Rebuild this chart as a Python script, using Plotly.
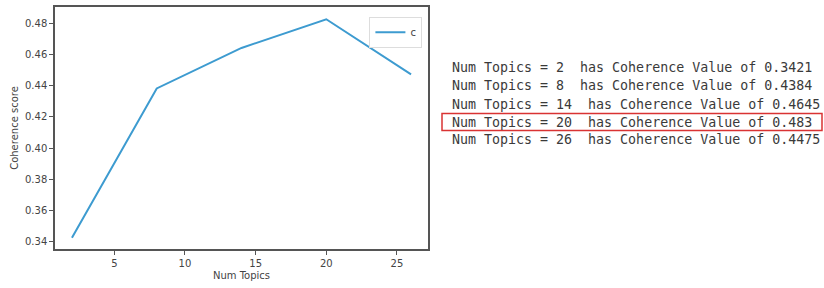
import plotly.graph_objects as go

num_topics = [2, 8, 14, 20, 26]
coherence = [0.3421, 0.4384, 0.4645, 0.483, 0.4475]
x_ticks = [5, 10, 15, 20, 25]
y_ticks = [0.34, 0.36, 0.38, 0.40, 0.42, 0.44, 0.46, 0.48]
highlight_index = 3

W, H = 824, 288
L, R, T, B = 55, 428, 5, 249

def px(x):
    return (x - L) / (R - L)

def py(y):
    return (B - y) / (B - T)

fig = go.Figure()
fig.add_trace(go.Scatter(x=num_topics, y=coherence, mode="lines", name="c",
                         line=dict(color="#3d9bd0", width=2)))

axis_common = dict(showgrid=False, zeroline=False, showline=True, mirror=True,
                   linecolor="#555555", linewidth=1.5, ticks="outside", ticklen=4,
                   tickcolor="#555555", tickfont=dict(family="DejaVu Sans", size=10, color="#444444"))

fig.update_xaxes(range=[0.8, 27.2], tickvals=x_ticks, ticktext=[str(v) for v in x_ticks],
                 title=dict(text="Num Topics", font=dict(family="DejaVu Sans", size=10, color="#444444"), standoff=4),
                 **axis_common)
fig.update_yaxes(range=[0.3349, 0.4909], tickvals=y_ticks, ticktext=[f"{v:.2f}" for v in y_ticks],
                 title=dict(text="Coherence score", font=dict(family="DejaVu Sans", size=10, color="#444444"), standoff=4),
                 **axis_common)

line_y = [66, 84, 103, 121, 139]
for i, (n, v) in enumerate(zip(num_topics, coherence)):
    txt = f"Num Topics = {n}  has Coherence Value of {v}".replace(" ", "\u00a0")
    fig.add_annotation(x=px(450), y=py(line_y[i]), xref="paper", yref="paper",
                       text=txt, showarrow=False, xanchor="left", yanchor="middle",
                       font=dict(family="DejaVu Sans Mono", size=13.3, color="#3a3a3a"))

yc = line_y[highlight_index]
fig.add_shape(type="rect", xref="paper", yref="paper",
              x0=px(442), x1=px(822), y0=py(yc - 8.5), y1=py(yc + 8.5),
              line=dict(color="#d93333", width=1.5))

fig.update_layout(
    width=W, height=H,
    margin=dict(l=L, r=W - R, t=T, b=H - B),
    paper_bgcolor="white", plot_bgcolor="white",
    showlegend=True,
    legend=dict(x=0.985, y=0.96, xanchor="right", yanchor="top",
                bgcolor="white", bordercolor="#dddddd", borderwidth=1,
                itemwidth=30, tracegroupgap=0,
                font=dict(family="DejaVu Sans", size=10, color="#444444")),
)

fig.write_html("out.html", config={"displayModeBar": False},
               post_script="document.body.style.margin='0';document.body.style.overflow='hidden';")
